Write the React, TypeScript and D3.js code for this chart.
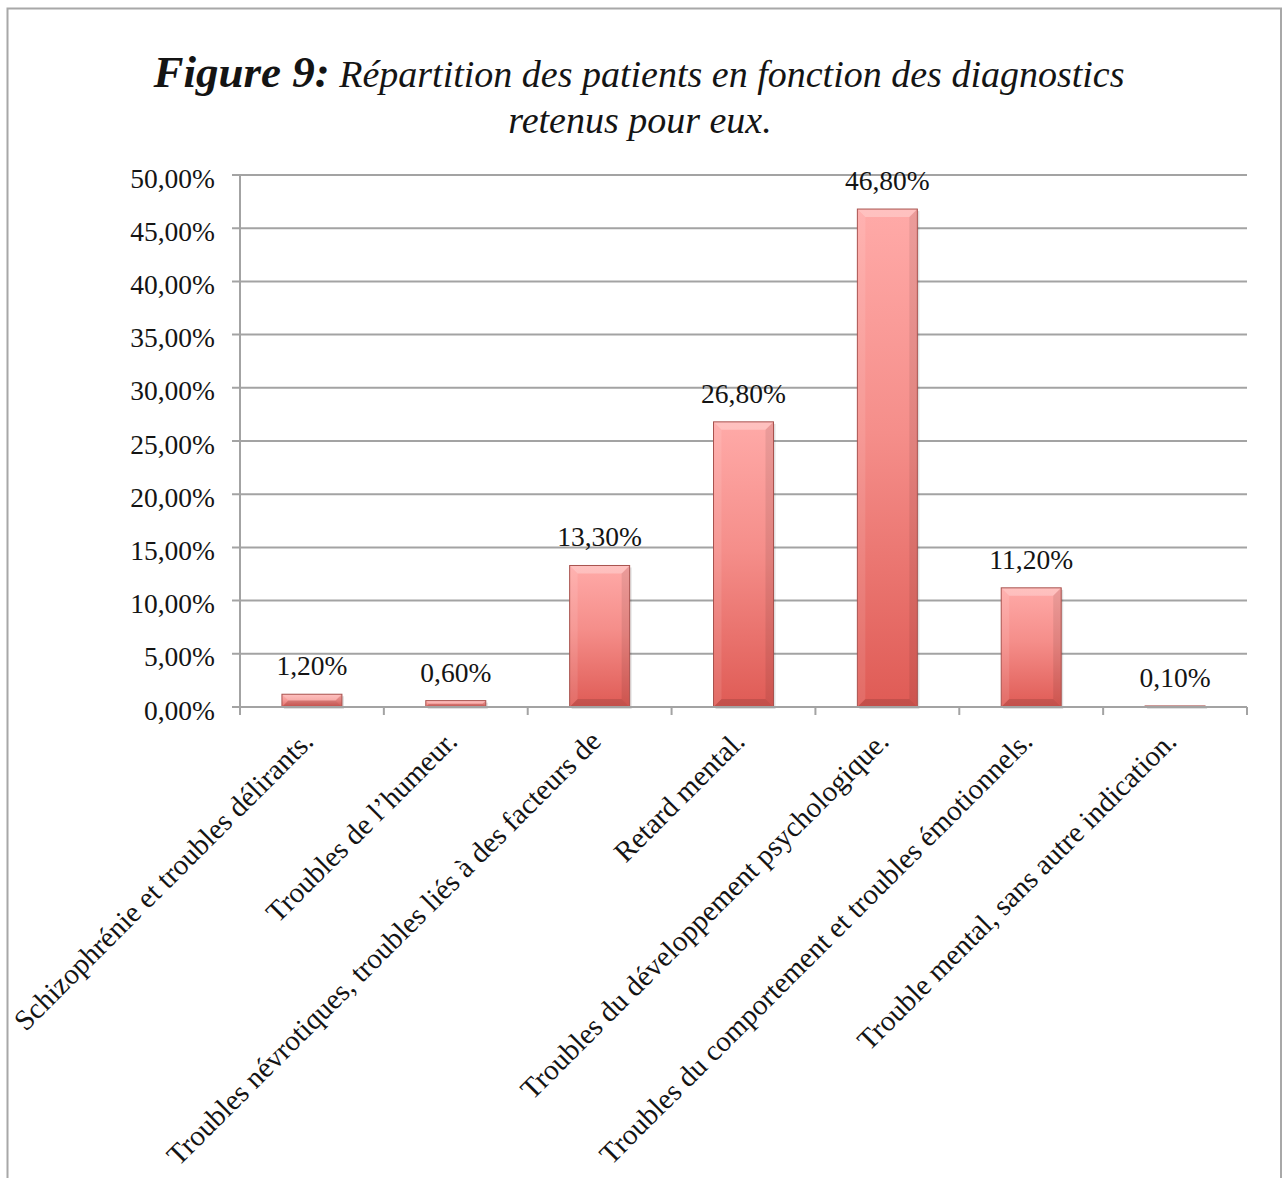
import React from "react";
import * as d3 from "d3";

const categories: string[] = [
  "Schizophrénie et troubles délirants.",
  "Troubles de l’humeur.",
  "Troubles névrotiques, troubles liés à des facteurs de",
  "Retard mental.",
  "Troubles du développement psychologique.",
  "Troubles du comportement et troubles émotionnels.",
  "Trouble mental, sans autre indication.",
];
const values: number[] = [1.2, 0.6, 13.3, 26.8, 46.8, 11.2, 0.1];
const valueLabels: string[] = ["1,20%", "0,60%", "13,30%", "26,80%", "46,80%", "11,20%", "0,10%"];
const yTicks: number[] = [0, 5, 10, 15, 20, 25, 30, 35, 40, 45, 50];
const titleBold = "Figure 9:";
const titleRest = " Répartition des patients en fonction des diagnostics";
const titleLine2 = "retenus pour eux.";

const W = 1284;
const H = 1178;
const plot = { left: 240, right: 1247, top: 175, bottom: 707 };
const SERIF = "'Liberation Serif', 'Times New Roman', serif";
const GRID = "#a3a3a3";
const TEXT = "#141414";

function fmtTick(v: number): string {
  return v.toFixed(2).replace(".", ",") + "%";
}

export default function App() {
  const y = d3.scaleLinear().domain([0, 50]).range([plot.bottom, plot.top]);
  const x = d3
    .scaleBand<string>()
    .domain(categories)
    .range([plot.left, plot.right])
    .paddingInner(0.583)
    .paddingOuter(0.2915);
  const step = x.step();
  const bw = x.bandwidth();

  return (
    <svg
      width={W}
      height={H}
      viewBox={`0 0 ${W} ${H}`}
      style={{ position: "absolute", left: 0, top: 0, background: "#fff" }}
    >
      <defs>
        <linearGradient id="barGrad" x1="0" y1="0" x2="0" y2="1">
          <stop offset="0%" stopColor="#ffaaa8" />
          <stop offset="45%" stopColor="#f58e8a" />
          <stop offset="100%" stopColor="#df5b55" />
        </linearGradient>
      </defs>
      <rect x={0} y={0} width={W} height={H} fill="#fff" />
      {/* frame */}
      <rect x={7.5} y={8.5} width={1273.5} height={1240} fill="none" stroke="#a8a8a8" strokeWidth={2} />

      {/* title */}
      <text x={639} y={87} textAnchor="middle" fontFamily={SERIF} fill={TEXT}>
        <tspan fontWeight="bold" fontStyle="italic" fontSize={45}>{titleBold}</tspan>
        <tspan fontStyle="italic" fontSize={38}>{titleRest}</tspan>
      </text>
      <text x={640} y={133} textAnchor="middle" fontFamily={SERIF} fontStyle="italic" fontSize={38} fill={TEXT}>
        {titleLine2}
      </text>

      {/* gridlines + y ticks */}
      {yTicks.map((t) => (
        <g key={t}>
          <line x1={plot.left - 8} x2={plot.right} y1={y(t)} y2={y(t)} stroke={GRID} strokeWidth={2} />
          <text
            x={215}
            y={y(t) + 12.5}
            textAnchor="end"
            fontFamily={SERIF}
            fontSize={27.5}
            fill={TEXT}
          >
            {fmtTick(t)}
          </text>
        </g>
      ))}
      {/* y axis */}
      <line x1={plot.left} x2={plot.left} y1={plot.top} y2={plot.bottom} stroke={GRID} strokeWidth={2} />
      {/* x axis ticks */}
      {d3.range(categories.length + 1).map((i) => (
        <line
          key={i}
          x1={plot.left + i * step}
          x2={plot.left + i * step}
          y1={plot.bottom}
          y2={plot.bottom + 8}
          stroke={GRID}
          strokeWidth={2}
        />
      ))}

      {/* bars */}
      {categories.map((c, i) => {
        const x0 = x(c) as number;
        const y0 = y(values[i]);
        const h = plot.bottom - y0;
        const b = Math.min(8, h / 2, bw / 2);
        const x1 = x0 + bw;
        const y1 = y0 + h;
        return (
          <g key={c}>
            <rect x={x0 + 2} y={y0 + 2} width={bw} height={h} fill="#000" opacity={0.12} />
            <rect x={x0} y={y0} width={bw} height={h} fill="url(#barGrad)" />
            <polygon
              points={`${x0},${y0} ${x1},${y0} ${x1 - b},${y0 + b} ${x0 + b},${y0 + b}`}
              fill="#fff"
              opacity={0.28}
            />
            <polygon
              points={`${x0},${y0} ${x0 + b},${y0 + b} ${x0 + b},${y1 - b} ${x0},${y1}`}
              fill="#fff"
              opacity={0.1}
            />
            <polygon
              points={`${x1},${y0} ${x1 - b},${y0 + b} ${x1 - b},${y1 - b} ${x1},${y1}`}
              fill="#000"
              opacity={0.08}
            />
            <polygon
              points={`${x0},${y1} ${x0 + b},${y1 - b} ${x1 - b},${y1 - b} ${x1},${y1}`}
              fill="#000"
              opacity={0.12}
            />
            <rect x={x0} y={y0} width={bw} height={h} fill="none" stroke="#a8524e" strokeWidth={1} />
            <text
              x={x0 + bw / 2}
              y={y0 - 19}
              textAnchor="middle"
              fontFamily={SERIF}
              fontSize={27.5}
              fill={TEXT}
            >
              {valueLabels[i]}
            </text>
          </g>
        );
      })}

      {/* bottom axis line */}
      <line x1={plot.left} x2={plot.right} y1={plot.bottom} y2={plot.bottom} stroke={GRID} strokeWidth={2} />

      {/* x labels */}
      {categories.map((c) => {
        const cx = (x(c) as number) + bw / 2;
        return (
          <text
            key={c}
            transform={`translate(${cx + 3},${plot.bottom + 36}) rotate(-45)`}
            textAnchor="end"
            fontFamily={SERIF}
            fontSize={29}
            fill={TEXT}
          >
            {c}
          </text>
        );
      })}
    </svg>
  );
}
